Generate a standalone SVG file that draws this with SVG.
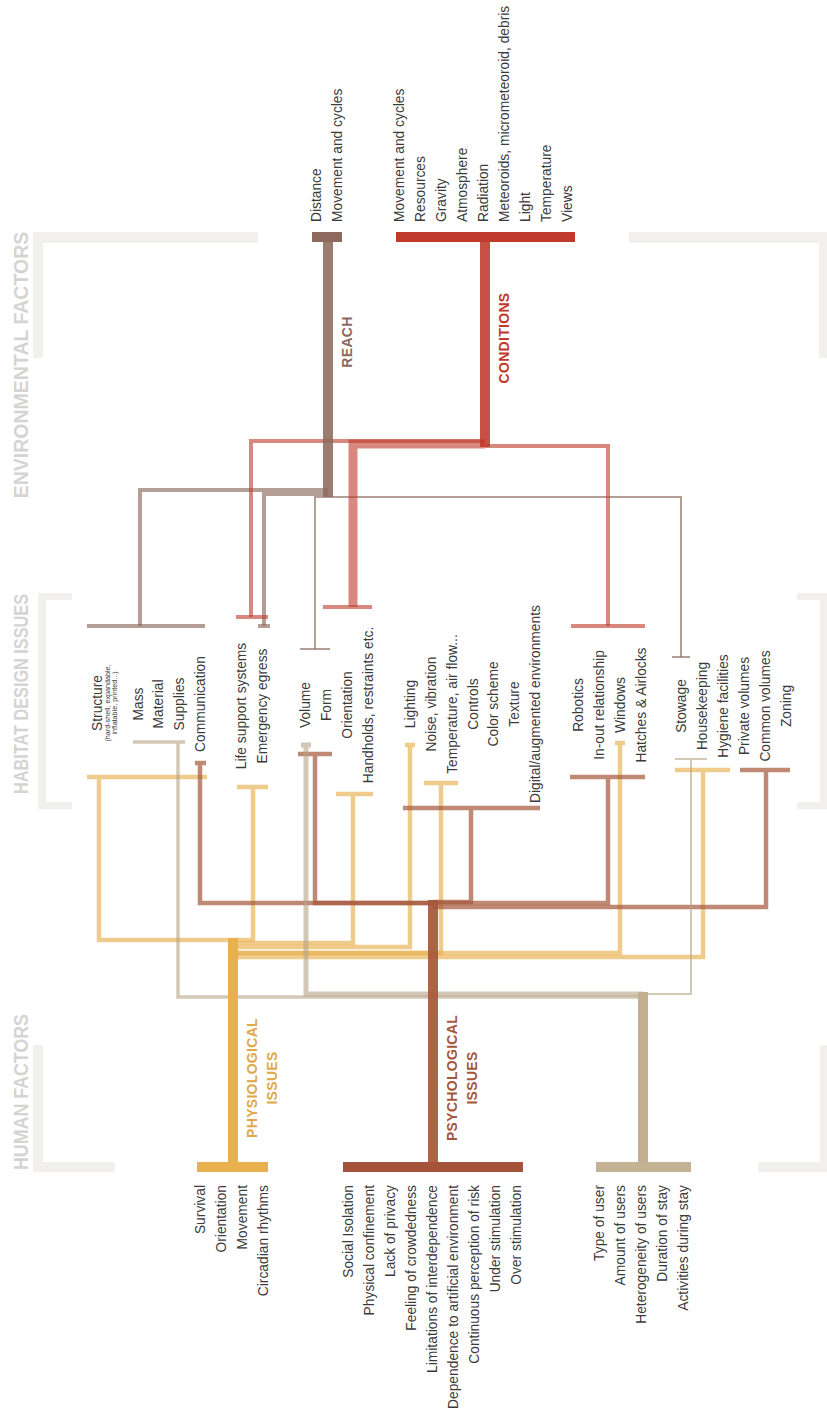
<svg xmlns="http://www.w3.org/2000/svg" width="827" height="1414" viewBox="0 0 827 1414">
<style>
text{font-family:"Liberation Sans",Arial,sans-serif}
.l{font-size:13.8px;fill:#3a3a3a}
.sub{font-size:7.2px;fill:#3a3a3a}
.sec{font-size:19.5px;font-weight:bold;fill:#d6d4d1}
.hd{font-size:14px;font-weight:bold;letter-spacing:.3px}
.m{text-anchor:middle}
.e{text-anchor:end}
.br{fill:#f2f0ec}
.c{fill:none;stroke-linejoin:miter;stroke-linecap:butt}
.reach{stroke:#8d6a5d;stroke-opacity:.65}
.cond{stroke:#c0392b;stroke-opacity:.6}
.phys{stroke:#e8b04f;stroke-opacity:.65}
.psy{stroke:#a5573a;stroke-opacity:.7}
.usr{stroke:#b5a283;stroke-opacity:.6}
</style>
<rect width="827" height="1414" fill="#ffffff"/>

<g id="sections">
<rect class="br" x="33" y="232" width="225" height="11"/>
<rect class="br" x="33" y="232" width="10" height="126"/>
<rect class="br" x="629" y="232" width="198" height="11"/>
<rect class="br" x="819" y="232" width="8" height="126"/>
<rect class="br" x="38" y="593" width="34" height="7"/>
<rect class="br" x="38" y="593" width="8" height="216"/>
<rect class="br" x="38" y="802" width="34" height="7"/>
<rect class="br" x="797" y="593" width="30" height="7"/>
<rect class="br" x="820" y="593" width="7" height="216"/>
<rect class="br" x="797" y="802" width="30" height="7"/>
<rect class="br" x="33" y="1045" width="10" height="127"/>
<rect class="br" x="33" y="1162" width="82" height="10"/>
<rect class="br" x="820" y="1045" width="7" height="127"/>
<rect class="br" x="758" y="1162" width="69" height="10"/>
<text class="sec m" transform="translate(28,365) rotate(-90)">ENVIRONMENTAL FACTORS</text>
<text class="sec m" transform="translate(28,694) rotate(-90)" textLength="200" lengthAdjust="spacingAndGlyphs">HABITAT DESIGN ISSUES</text>
<text class="sec m" transform="translate(28,1092) rotate(-90)" textLength="156" lengthAdjust="spacingAndGlyphs">HUMAN FACTORS</text>
</g>

<g id="connectors">
<!-- reach -->
<path class="c reach" stroke-width="4" d="M328,490H140V626"/>
<path class="c reach" stroke-width="4" d="M87,626H205"/>
<path class="c reach" stroke-width="4" d="M328,494H264V626"/>
<path class="c reach" stroke-width="4" d="M258,626H270"/>
<path class="c reach" stroke-width="2" d="M315,649V497H681V657"/>
<path class="c reach" stroke-width="2" d="M300,649H330M672,657H690"/>
<!-- conditions -->
<path class="c cond" stroke-width="4" d="M485,441H251V617"/>
<path class="c cond" stroke-width="4" d="M236,617H268"/>
<path class="c cond" stroke-width="9" d="M485,444H353V607"/>
<path class="c cond" stroke-width="4" d="M323,607H372"/>
<path class="c cond" stroke-width="4" d="M485,446H608V626"/>
<path class="c cond" stroke-width="4" d="M571,626H645"/>
<!-- physiological -->
<path class="c phys" stroke-width="4.5" d="M87,777H207M99,777V940H233"/>
<path class="c phys" stroke-width="4.5" d="M237,787H268M253,787V940H233"/>
<path class="c phys" stroke-width="4.5" d="M336,794H373M353,794V943H233"/>
<path class="c phys" stroke-width="4.5" d="M405,745H415M410,745V947H233"/>
<path class="c phys" stroke-width="4.5" d="M424,783H458M441,783V953H233"/>
<path class="c phys" stroke-width="4.5" d="M615,743H625M620,743V953H233"/>
<path class="c phys" stroke-width="4.5" d="M675,770H730M703,770V957H233"/>
<!-- psychological -->
<path class="c psy" stroke-width="4.5" d="M195,763H206M200,763V903H433"/>
<path class="c psy" stroke-width="4.5" d="M298,754H332M315,754V903H433"/>
<path class="c psy" stroke-width="4.5" d="M403,808H540M471,808V902H433"/>
<path class="c psy" stroke-width="4.5" d="M570,777H645M608,777V903H433"/>
<path class="c psy" stroke-width="4.5" d="M740,770H790M766,770V907H433"/>
<!-- users -->
<path class="c usr" stroke-width="3.5" d="M133,742H185M178,742V997H643"/>
<path class="c usr" stroke-width="5" d="M301,745H311M306,745V994H643"/>
<path class="c usr" stroke-width="2" d="M675,759H707M691,759V994H643"/>
</g>

<g id="reach">
<rect x="312" y="232" width="30" height="10" fill="#8d6a5d"/>
<rect x="323" y="242" width="10" height="255" fill="#8d6a5d" fill-opacity=".88"/>
<text class="hd m" fill="#8d6a5d" transform="translate(352,342) rotate(-90)">REACH</text>
<text class="l" transform="translate(321,222) rotate(-90)">Distance</text>
<text class="l" transform="translate(342,222) rotate(-90)">Movement and cycles</text>
</g>

<g id="conditions">
<rect x="396" y="232" width="179" height="10" fill="#c0392b"/>
<rect x="480" y="242" width="10" height="205" fill="#c0392b" fill-opacity=".88"/>
<text class="hd m" fill="#c0392b" transform="translate(509,338) rotate(-90)">CONDITIONS</text>
<text class="l" transform="translate(404,222) rotate(-90)">Movement and cycles</text>
<text class="l" transform="translate(425,222) rotate(-90)">Resources</text>
<text class="l" transform="translate(446,222) rotate(-90)">Gravity</text>
<text class="l" transform="translate(467,222) rotate(-90)">Atmosphere</text>
<text class="l" transform="translate(488,222) rotate(-90)">Radiation</text>
<text class="l" transform="translate(509,222) rotate(-90)">Meteoroids, micrometeoroid, debris</text>
<text class="l" transform="translate(530,222) rotate(-90)">Light</text>
<text class="l" transform="translate(551,222) rotate(-90)">Temperature</text>
<text class="l" transform="translate(572,222) rotate(-90)">Views</text>
</g>

<g id="habitat-structure">
<text class="l m" transform="translate(102,703) rotate(-90)">Structure</text>
<text class="sub m" transform="translate(110,703) rotate(-90)">(hard-shell, expandable,</text>
<text class="sub m" transform="translate(117,703) rotate(-90)">inflatable, printed...)</text>
<text class="l m" transform="translate(143,704) rotate(-90)">Mass</text>
<text class="l m" transform="translate(163,704) rotate(-90)">Material</text>
<text class="l m" transform="translate(184,704) rotate(-90)">Supplies</text>
<text class="l m" transform="translate(205,704) rotate(-90)">Communication</text>
</g>

<g id="habitat-systems">
<text class="l m" transform="translate(246,706) rotate(-90)">Life support systems</text>
<text class="l m" transform="translate(267,706) rotate(-90)">Emergency egress</text>
</g>

<g id="habitat-volume">
<text class="l m" transform="translate(310,705) rotate(-90)">Volume</text>
<text class="l m" transform="translate(331,705) rotate(-90)">Form</text>
<text class="l m" transform="translate(352,705) rotate(-90)">Orientation</text>
<text class="l m" transform="translate(373,705) rotate(-90)">Handholds, restraints etc.</text>
</g>

<g id="habitat-ambient">
<text class="l m" transform="translate(415,704) rotate(-90)">Lighting</text>
<text class="l m" transform="translate(436,704) rotate(-90)">Noise, vibration</text>
<text class="l m" transform="translate(457,704) rotate(-90)">Temperature, air flow...</text>
<text class="l m" transform="translate(478,704) rotate(-90)">Controls</text>
<text class="l m" transform="translate(498,704) rotate(-90)">Color scheme</text>
<text class="l m" transform="translate(519,704) rotate(-90)">Texture</text>
<text class="l m" transform="translate(540,704) rotate(-90)">Digital/augmented environments</text>
</g>

<g id="habitat-interface">
<text class="l m" transform="translate(583,705) rotate(-90)">Robotics</text>
<text class="l m" transform="translate(604,705) rotate(-90)">In-out relationship</text>
<text class="l m" transform="translate(625,705) rotate(-90)">Windows</text>
<text class="l m" transform="translate(646,705) rotate(-90)">Hatches &amp; Airlocks</text>
</g>

<g id="habitat-spaces">
<text class="l m" transform="translate(686,706) rotate(-90)">Stowage</text>
<text class="l m" transform="translate(707,706) rotate(-90)">Housekeeping</text>
<text class="l m" transform="translate(728,706) rotate(-90)">Hygiene facilities</text>
<text class="l m" transform="translate(749,706) rotate(-90)">Private volumes</text>
<text class="l m" transform="translate(770,706) rotate(-90)">Common volumes</text>
<text class="l m" transform="translate(791,706) rotate(-90)">Zoning</text>
</g>

<g id="physiological">
<rect x="228" y="938" width="10" height="229" fill="#e8b04f"/>
<rect x="197" y="1162" width="71" height="10" fill="#e8b04f"/>
<text class="hd m" fill="#e0a847" transform="translate(257,1078) rotate(-90)">PHYSIOLOGICAL</text>
<text class="hd m" fill="#e0a847" transform="translate(277,1078) rotate(-90)">ISSUES</text>
<text class="l e" transform="translate(205,1185) rotate(-90)">Survival</text>
<text class="l e" transform="translate(226,1185) rotate(-90)">Orientation</text>
<text class="l e" transform="translate(247,1185) rotate(-90)">Movement</text>
<text class="l e" transform="translate(268,1185) rotate(-90)">Circadian rhythms</text>
</g>

<g id="psychological">
<rect x="428" y="900" width="10" height="267" fill="#a5573a" fill-opacity=".92"/>
<rect x="343" y="1162" width="180" height="10" fill="#a5533a"/>
<text class="hd m" fill="#a5573a" transform="translate(457,1078) rotate(-90)">PSYCHOLOGICAL</text>
<text class="hd m" fill="#a5573a" transform="translate(477,1078) rotate(-90)">ISSUES</text>
<text class="l e" transform="translate(353,1185) rotate(-90)">Social Isolation</text>
<text class="l e" transform="translate(374,1185) rotate(-90)">Physical confinement</text>
<text class="l e" transform="translate(395,1185) rotate(-90)">Lack of privacy</text>
<text class="l e" transform="translate(416,1185) rotate(-90)">Feeling of crowdedness</text>
<text class="l e" transform="translate(437,1185) rotate(-90)">Limitations of interdependence</text>
<text class="l e" transform="translate(458,1185) rotate(-90)">Dependence to artificial environment</text>
<text class="l e" transform="translate(479,1185) rotate(-90)">Continuous perception of risk</text>
<text class="l e" transform="translate(500,1185) rotate(-90)">Under stimulation</text>
<text class="l e" transform="translate(521,1185) rotate(-90)">Over stimulation</text>
</g>

<g id="users">
<rect x="638" y="992" width="10" height="175" fill="#c2af90"/>
<rect x="596" y="1162" width="95" height="10" fill="#c4b295"/>
<text class="l e" transform="translate(604,1185) rotate(-90)">Type of user</text>
<text class="l e" transform="translate(625,1185) rotate(-90)">Amount of users</text>
<text class="l e" transform="translate(646,1185) rotate(-90)">Heterogeneity of users</text>
<text class="l e" transform="translate(667,1185) rotate(-90)">Duration of stay</text>
<text class="l e" transform="translate(688,1185) rotate(-90)">Activities during stay</text>
</g>
</svg>
